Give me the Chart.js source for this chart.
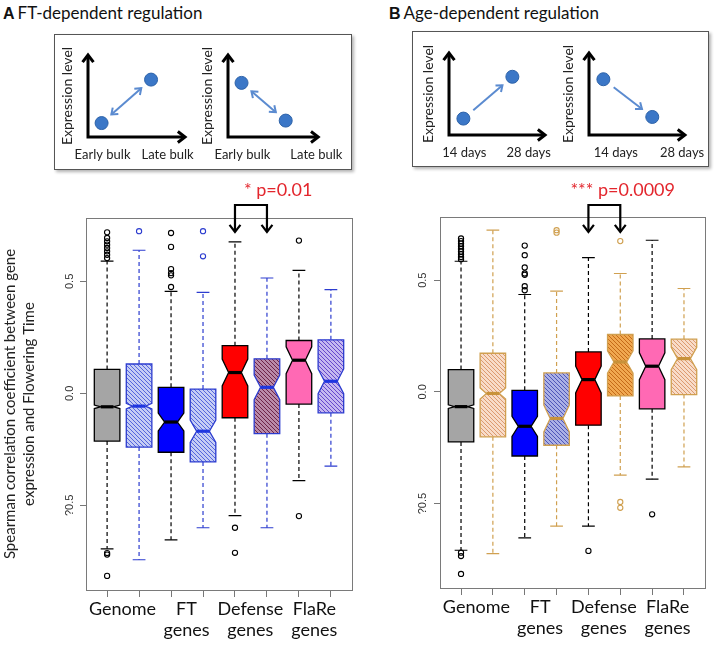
<!DOCTYPE html>
<html>
<head>
<meta charset="utf-8">
<title>FT- and age-dependent regulation</title>
<script src="https://cdn.jsdelivr.net/npm/chart.js@4.4.1/dist/chart.umd.min.js"></script>
<style>
  body { margin: 0; background: #fff; }
  #page { position: relative; width: 719px; height: 645px; overflow: hidden; font-family: Lato, sans-serif; }
  .abs { position: absolute; }
  .head { font-size: 17px; color: #111; white-space: nowrap; }
  .head b { font-family: "Liberation Sans", Arial, sans-serif; font-size: 16px; margin-right: 3px; }
  .frame { border: 1px solid #555; box-shadow: 2px 2px 3px rgba(0,0,0,0.3); }
</style>
</head>
<body>
<div id="page">
  <div class="abs head" style="left:3px; top:2px"><b>A</b>FT-dependent regulation</div>
  <div class="abs head" style="left:389px; top:2px"><b>B</b>Age-dependent regulation</div>
  <div class="abs frame" style="left:54px; top:34px; width:296px; height:134px"></div>
  <div class="abs frame" style="left:412px; top:31px; width:295px; height:134px"></div>

  <canvas class="abs" id="skA1" width="161" height="128" style="left:54px; top:45px"></canvas>
  <canvas class="abs" id="skA2" width="159" height="128" style="left:194px; top:45px"></canvas>
  <canvas class="abs" id="skB1" width="160" height="128" style="left:415px; top:43px"></canvas>
  <canvas class="abs" id="skB2" width="160" height="128" style="left:555px; top:43px"></canvas>

  <canvas class="abs" id="boxA" width="360" height="470" style="left:0px; top:175px"></canvas>
  <canvas class="abs" id="boxB" width="359" height="470" style="left:360px; top:175px"></canvas>
</div>

<script>
// ---- data ----
const categories = ['Genome', 'FT genes', 'Defense genes', 'FlaRe genes'];
const xTickValues = [1, 2, 3, 4, 5, 6, 7, 8];
const yTickValues = [-0.5, 0, 0.5];
const yTickLabels = ['?0.5', '0.0', '0.5'];

// FT-dependent panel (A): whisker ends, hinges, medians, notch half-heights
const ftLow    = [-0.694, -0.743, -0.654, -0.600, -0.546, -0.600, -0.390, -0.325];
const ftQ1     = [-0.213, -0.240, -0.263, -0.306, -0.109, -0.180, -0.048, -0.087];
const ftMedian = [-0.060, -0.057, -0.128, -0.169,  0.093,  0.027,  0.148,  0.054];
const ftQ3     = [ 0.107,  0.131,  0.027,  0.019,  0.213,  0.154,  0.236,  0.239];
const ftHigh   = [ 0.590,  0.639,  0.455,  0.451,  0.676,  0.515,  0.549,  0.463];
const ftNotch  = [ 0.008,  0.012,  0.040,  0.050,  0.060,  0.055,  0.060,  0.055];
const ftOutliers = [
  [0.719, 0.694, 0.679, 0.664, 0.649, 0.634, 0.619, 0.604, -0.713, -0.720, -0.815],
  [0.724],
  [0.716, 0.654, 0.555, 0.537, 0.527, 0.475],
  [0.724, 0.612],
  [-0.600, -0.712],
  [],
  [0.682, -0.548],
  []
];

// Age-dependent panel (B)
const ageLow    = [-0.709, -0.724, -0.654, -0.601, -0.601, -0.373, -0.391, -0.336];
const ageQ1     = [-0.224, -0.201, -0.287, -0.239, -0.149, -0.018, -0.076, -0.012];
const ageMedian = [-0.066, -0.007, -0.154, -0.119,  0.055,  0.134,  0.115,  0.149];
const ageQ3     = [ 0.100,  0.173,  0.007,  0.085,  0.179,  0.257,  0.237,  0.236];
const ageHigh   = [ 0.585,  0.724,  0.436,  0.451,  0.601,  0.530,  0.679,  0.463];
const ageNotch  = [ 0.008,  0.025,  0.045,  0.060,  0.060,  0.050,  0.060,  0.050];
const ageOutliers = [
  [0.687, 0.675, 0.664, 0.652, 0.640, 0.628, 0.616, 0.604, 0.594, -0.720, -0.735, -0.815],
  [],
  [0.655, 0.612, 0.557, 0.530, 0.524, 0.473, 0.455],
  [0.724, 0.713],
  [-0.712],
  [0.675, -0.493, -0.519],
  [-0.548],
  []
];

// schematic sketches (arbitrary 0-100 units)
const ftUpX = [14, 65],   ftUpY = [17, 70];
const ftDownX = [15, 64], ftDownY = [66, 20];
const ageUpX = [15, 66],  ageUpY = [20, 71];
const ageDownX = [15, 66], ageDownY = [68, 22];
const ftSketchTicks = ['Early bulk', 'Late bulk'];
const ageSketchTicks = ['14 days', '28 days'];

// ---- styles ----
const ftStyle = {
  fill: ['#a5a5a5', ['#c5cdf5', '#5566dd'], '#0000ff', ['#c5cdf5', '#5566dd'], '#ff0000', ['#b98aa8', '#6e2448'], '#ff69b4', ['#c4b8f0', '#6648cc']],
  line: ['#000', '#2c3ccf', '#000', '#2c3ccf', '#000', '#2c3ccf', '#000', '#2c3ccf'],
  median: ['#000', '#1f36e0', '#000', '#1f36e0', '#000', '#1f36e0', '#000', '#1f36e0']
};
const ageStyle = {
  fill: ['#a5a5a5', ['#f8dcc8', '#dc9a70'], '#0000ff', ['#aab0e6', '#4f56b8'], '#ff0000', ['#f0a850', '#c46a18'], '#ff69b4', ['#f8dcc8', '#dc9a70']],
  line: ['#000', '#d0a050', '#000', '#d0a050', '#000', '#d0a050', '#000', '#d0a050'],
  median: ['#000', '#c8923a', '#000', '#c8923a', '#000', '#c8923a', '#000', '#c8923a']
};

function hatch(ctx, bg, fg) {
  const c = document.createElement('canvas');
  c.width = 4; c.height = 4;
  const g = c.getContext('2d');
  g.fillStyle = bg; g.fillRect(0, 0, 4, 4);
  g.strokeStyle = fg; g.lineWidth = 1;
  g.beginPath();
  g.moveTo(-1, -1); g.lineTo(5, 5);
  g.moveTo(-1, 3); g.lineTo(1, 5);
  g.moveTo(3, -1); g.lineTo(5, 1);
  g.stroke();
  return ctx.createPattern(c, 'repeat');
}

function chevron(ctx, x, y, ang, size) {
  ctx.beginPath();
  ctx.moveTo(x - size * Math.cos(ang - 0.65), y - size * Math.sin(ang - 0.65));
  ctx.lineTo(x, y);
  ctx.lineTo(x - size * Math.cos(ang + 0.65), y - size * Math.sin(ang + 0.65));
  ctx.stroke();
}

// notched boxes + dashed whiskers, drawn through the chart scales
const boxPlugin = {
  id: 'boxes',
  beforeDatasetsDraw(chart, args, o) {
    const {ctx, scales: {x, y}} = chart;
    ctx.save();
    o.median.forEach((m, i) => {
      const cx = x.getPixelForValue(i + 1);
      const w = x.getPixelForValue(i + 1.4) - cx;
      const pLo = y.getPixelForValue(o.low[i]);
      const pQ1 = y.getPixelForValue(o.q1[i]);
      const pMed = y.getPixelForValue(m);
      const pQ3 = y.getPixelForValue(o.q3[i]);
      const pHi = y.getPixelForValue(o.high[i]);
      const nLo = y.getPixelForValue(m - o.notch[i]);
      const nHi = y.getPixelForValue(m + o.notch[i]);
      const line = o.style.line[i];

      ctx.strokeStyle = line;
      ctx.lineWidth = 1.2;
      ctx.setLineDash([4, 3]);
      ctx.beginPath();
      ctx.moveTo(cx, pQ3); ctx.lineTo(cx, pHi);
      ctx.moveTo(cx, pQ1); ctx.lineTo(cx, pLo);
      ctx.stroke();
      ctx.setLineDash([]);
      ctx.beginPath();
      ctx.moveTo(cx - w / 2, pHi); ctx.lineTo(cx + w / 2, pHi);
      ctx.moveTo(cx - w / 2, pLo); ctx.lineTo(cx + w / 2, pLo);
      ctx.stroke();

      ctx.beginPath();
      ctx.moveTo(cx - w, pQ1); ctx.lineTo(cx - w, nLo); ctx.lineTo(cx - w / 2, pMed);
      ctx.lineTo(cx - w, nHi); ctx.lineTo(cx - w, pQ3);
      ctx.lineTo(cx + w, pQ3); ctx.lineTo(cx + w, nHi); ctx.lineTo(cx + w / 2, pMed);
      ctx.lineTo(cx + w, nLo); ctx.lineTo(cx + w, pQ1);
      ctx.closePath();
      const f = o.style.fill[i];
      ctx.fillStyle = Array.isArray(f) ? hatch(ctx, f[0], f[1]) : f;
      ctx.fill();
      ctx.lineWidth = 1.3;
      ctx.stroke();

      ctx.lineWidth = 3.2;
      ctx.strokeStyle = o.style.median[i];
      ctx.beginPath();
      ctx.moveTo(cx - w / 2, pMed); ctx.lineTo(cx + w / 2, pMed);
      ctx.stroke();
    });
    ctx.restore();
  },
  afterDraw(chart, args, o) {
    const {ctx, chartArea: a, scales: {x, y}} = chart;
    ctx.save();
    // R-style box around the plot
    ctx.strokeStyle = '#7a7a7a';
    ctx.lineWidth = 1;
    ctx.strokeRect(a.left + 0.5, a.top + 0.5, a.right - a.left, a.bottom - a.top);
    // rotated y tick labels
    ctx.fillStyle = '#333';
    ctx.font = '11px "Liberation Sans", Arial, sans-serif';
    ctx.textAlign = 'center';
    ctx.textBaseline = 'middle';
    yTickValues.forEach((v, i) => {
      ctx.save();
      ctx.translate(o.yLabelX, y.getPixelForValue(v));
      ctx.rotate(-Math.PI / 2);
      ctx.fillText(yTickLabels[i], 0, 0);
      ctx.restore();
    });
    // significance bracket
    const x1 = x.getPixelForValue(o.bracket[0]);
    const x2 = x.getPixelForValue(o.bracket[1]);
    ctx.strokeStyle = '#000';
    ctx.lineWidth = 2.2;
    ctx.beginPath();
    ctx.moveTo(x1, o.tipY); ctx.lineTo(x1, o.topY); ctx.lineTo(x2, o.topY); ctx.lineTo(x2, o.tipY);
    ctx.stroke();
    chevron(ctx, x1, o.tipY, Math.PI / 2, 9);
    chevron(ctx, x2, o.tipY, Math.PI / 2, 9);
    ctx.fillStyle = '#e3262d';
    ctx.font = '18px Lato, sans-serif';
    ctx.textAlign = 'left';
    ctx.fillText(o.label, x1 + o.labelDx, o.labelY);
    ctx.restore();
  }
};

function outlierPoints(outs) {
  const pts = [];
  outs.forEach((vals, i) => vals.forEach(v => pts.push({x: i + 1, y: v})));
  return pts;
}

function makeBoxChart(id, d, style, extra) {
  return new Chart(document.getElementById(id), {
    type: 'scatter',
    data: {
      datasets: [{
        data: outlierPoints(d.outliers),
        pointRadius: 2.6,
        pointBorderWidth: 1.1,
        pointBackgroundColor: 'rgba(0,0,0,0)',
        pointBorderColor: c => (c.raw ? style.line[c.raw.x - 1] : '#000')
      }]
    },
    options: {
      responsive: false,
      animation: false,
      devicePixelRatio: 1,
      layout: { padding: { top: extra.top, right: extra.right, left: 0, bottom: 0 } },
      plugins: {
        legend: { display: false },
        tooltip: { enabled: false },
        boxes: {
          low: d.low, q1: d.q1, median: d.median, q3: d.q3, high: d.high, notch: d.notch,
          style: style, yLabelX: extra.yLabelX,
          bracket: [5, 6], topY: 30, tipY: 57, label: extra.label, labelDx: extra.labelDx, labelY: 15
        }
      },
      scales: {
        x: {
          type: 'linear', min: 0.34, max: 8.66,
          afterBuildTicks: s => { s.ticks = xTickValues.map(v => ({value: v})); },
          afterFit: s => { s.height = extra.xHeight; },
          border: { display: false },
          grid: { drawOnChartArea: false, tickLength: 7, color: '#777' },
          ticks: {
            autoSkip: false, maxRotation: 0, minRotation: 0, padding: 2, labelOffset: 15.4,
            color: '#111', font: { family: 'Lato', size: 18, lineHeight: 1.15 },
            callback: (v, i) => {
              if (i % 2) return '';
              const name = categories[i / 2];
              return name.includes(' ') ? name.split(' ') : name;
            }
          }
        },
        y: {
          min: -0.878, max: 0.783,
          afterBuildTicks: s => { s.ticks = yTickValues.map(v => ({value: v})); },
          afterFit: s => { s.width = extra.yWidth; },
          border: { display: false },
          grid: { drawOnChartArea: false, tickLength: 6, color: '#777' },
          ticks: { display: false },
          title: {
            display: !!extra.yTitle,
            text: extra.yTitle || '',
            color: '#222',
            font: { family: 'Lato', size: 15, lineHeight: 1.25 },
            padding: { top: 1, bottom: 0 }
          }
        }
      }
    },
    plugins: [boxPlugin]
  });
}

makeBoxChart('boxA',
  { low: ftLow, q1: ftQ1, median: ftMedian, q3: ftQ3, high: ftHigh, notch: ftNotch, outliers: ftOutliers },
  ftStyle,
  { top: 43, right: 8, xHeight: 55, yWidth: 86, yLabelX: 70, label: '* p=0.01', labelDx: 9,
    yTitle: ['Spearman correlation coefficient between gene', 'expression and Flowering Time'] });

makeBoxChart('boxB',
  { low: ageLow, q1: ageQ1, median: ageMedian, q3: ageQ3, high: ageHigh, notch: ageNotch, outliers: ageOutliers },
  ageStyle,
  { top: 42, right: 14, xHeight: 57, yWidth: 80, yLabelX: 63, label: '*** p=0.0009', labelDx: -18 });

// axes with arrowheads and the blue arrow between the two dots
const sketchPlugin = {
  id: 'sketch',
  beforeDatasetsDraw(chart, args, o) {
    const {ctx, chartArea: a} = chart;
    ctx.save();
    ctx.strokeStyle = '#000';
    ctx.lineWidth = 3;
    ctx.beginPath();
    ctx.moveTo(a.left, a.top + 2); ctx.lineTo(a.left, a.bottom); ctx.lineTo(a.right - 2, a.bottom);
    ctx.stroke();
    chevron(ctx, a.left, a.top, -Math.PI / 2, 9);
    chevron(ctx, a.right, a.bottom, 0, 9);

    const pts = chart.getDatasetMeta(0).data;
    const p0 = pts[0], p1 = pts[1];
    const ang = Math.atan2(p1.y - p0.y, p1.x - p0.x);
    const trim = 13;
    const sx = p0.x + trim * Math.cos(ang), sy = p0.y + trim * Math.sin(ang);
    const ex = p1.x - trim * Math.cos(ang), ey = p1.y - trim * Math.sin(ang);
    ctx.strokeStyle = '#5b8bd0';
    ctx.lineWidth = 2;
    ctx.beginPath(); ctx.moveTo(sx, sy); ctx.lineTo(ex, ey); ctx.stroke();
    chevron(ctx, ex, ey, ang, 7);
    if (o.twoHeads) chevron(ctx, sx, sy, ang + Math.PI, 7);
    ctx.restore();
  }
};

function makeSketch(id, xs, ys, tickPos, tickText, twoHeads) {
  return new Chart(document.getElementById(id), {
    type: 'scatter',
    data: {
      datasets: [{
        data: xs.map((v, i) => ({x: v, y: ys[i]})),
        pointRadius: 6.5,
        pointBackgroundColor: '#3b77c7',
        pointBorderColor: '#2d62a8',
        pointBorderWidth: 1
      }]
    },
    options: {
      responsive: false,
      animation: false,
      devicePixelRatio: 1,
      layout: { padding: { top: 10, right: 30, left: 0, bottom: 0 } },
      plugins: { legend: { display: false }, tooltip: { enabled: false }, sketch: { twoHeads: twoHeads } },
      scales: {
        x: {
          type: 'linear', min: 0, max: 100,
          afterBuildTicks: s => { s.ticks = tickPos.map(v => ({value: v})); },
          afterFit: s => { s.height = 36; },
          grid: { display: false, drawTicks: false },
          border: { display: false },
          ticks: {
            autoSkip: false, maxRotation: 0, padding: 10, color: '#222',
            font: { family: 'Lato', size: 13 },
            callback: (v, i) => tickText[i]
          }
        },
        y: {
          min: 0, max: 100,
          afterFit: s => { s.width = 34; },
          grid: { display: false, drawTicks: false },
          border: { display: false },
          ticks: { display: false },
          title: {
            display: true, text: 'Expression level', color: '#222',
            font: { family: 'Lato', size: 14 }, padding: { top: 5, bottom: 0 }
          }
        }
      }
    },
    plugins: [sketchPlugin]
  });
}

makeSketch('skA1', ftUpX, ftUpY, [15, 82], ftSketchTicks, true);
makeSketch('skA2', ftDownX, ftDownY, [16, 98], ftSketchTicks, true);
makeSketch('skB1', ageUpX, ageUpY, [16, 83], ageSketchTicks, false);
makeSketch('skB2', ageDownX, ageDownY, [28, 97], ageSketchTicks, false);
</script>
</body>
</html>
